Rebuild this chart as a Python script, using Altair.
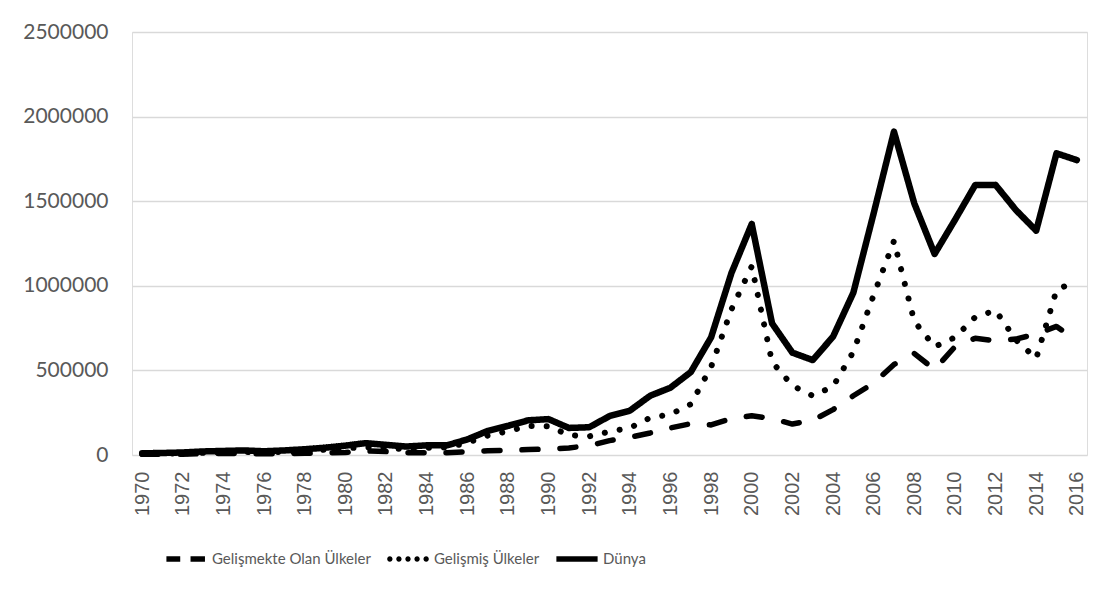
import altair as alt
import pandas as pd

years = list(range(1970, 2017))

dunya = [10000, 12000, 15000, 21000, 24000, 27000, 22000, 27000, 34000, 43000,
         55000, 70000, 60000, 50000, 57000, 57000, 92000, 142000, 172000, 205000,
         212000, 160000, 164000, 230000, 262000, 350000, 398000, 490000, 695000, 1075000,
         1365000, 778000, 605000, 561000, 699000, 959000, 1428000, 1911000, 1487000, 1188000,
         1389000, 1596000, 1596000, 1448000, 1326000, 1783000, 1743000]

gelismis = [6000, 8000, 10000, 13000, 15000, 18000, 15000, 19000, 24000, 31000,
            40000, 46000, 40000, 36000, 43000, 44000, 72000, 115000, 140000, 172000,
            170000, 118000, 110000, 138000, 160000, 220000, 240000, 300000, 520000, 860000,
            1115000, 550000, 410000, 350000, 405000, 610000, 945000, 1265000, 790000, 640000,
            695000, 815000, 855000, 680000, 570000, 975000, 1030000]

gelismekte = [4000, 4000, 5000, 8000, 9000, 9000, 7000, 8000, 10000, 12000,
              15000, 24000, 20000, 14000, 14000, 13000, 20000, 25000, 28000, 32000,
              35000, 42000, 55000, 85000, 105000, 130000, 160000, 185000, 178000, 215000,
              232000, 215000, 183000, 205000, 268000, 350000, 425000, 535000, 600000, 505000,
              640000, 690000, 675000, 685000, 715000, 760000, 675000]

series_names = ["Gelişmekte Olan Ülkeler", "Gelişmiş Ülkeler", "Dünya"]
y_ticks = [0, 500000, 1000000, 1500000, 2000000, 2500000]
x_label_years = [y for y in years if y % 2 == 0]

rows = []
for name, vals in zip(series_names, [gelismekte, gelismis, dunya]):
    for yr, v in zip(years, vals):
        rows.append({"Yıl": yr, "Değer": v, "Seri": name})
df = pd.DataFrame(rows)


def circle(cx, r):
    return f"M{cx - r},0a{r},{r} 0 1,0 {2 * r},0a{r},{r} 0 1,0 {-2 * r},0Z"


h = 0.135
dash_sym = (f"M-0.95,{-h}H-0.28V{h}H-0.95Z"
            f"M0.22,{-h}H0.92V{h}H0.22Z")
dot_sym = "".join(circle(cx, 0.13) for cx in [-0.88, -0.44, 0.0, 0.44, 0.88])
solid_sym = f"M-1,{-h}H1V{h}H-1Z"

x_enc = alt.X("Yıl:O", title=None,
              scale=alt.Scale(padding=0.5),
              axis=alt.Axis(values=x_label_years, labelAngle=-90, labelFont="Liberation Sans",
                            labelFontSize=20, labelColor="#595959", ticks=False, domain=False,
                            labelPadding=16, grid=False))
y_enc = alt.Y("Değer:Q", title=None,
              scale=alt.Scale(domain=[0, 2500000], nice=False),
              axis=alt.Axis(values=y_ticks, format="d", labelFont="Lato", labelFontSize=21,
                            labelColor="#595959", ticks=False, domain=False, labelPadding=24,
                            gridColor="#d9d9d9", gridWidth=1.3))

base = alt.Chart(df)

lines = base.mark_line(strokeCap="round", strokeJoin="round", color="black").encode(
    x=x_enc,
    y=y_enc,
    strokeDash=alt.StrokeDash("Seri:N",
        scale=alt.Scale(domain=series_names, range=[[16, 22], [0.1, 15], [1, 0]]),
        legend=None),
    strokeWidth=alt.StrokeWidth("Seri:N",
        scale=alt.Scale(domain=series_names, range=[5.5, 6.5, 6.5]), legend=None),
    order=alt.Order("Yıl:O"),
)

legend_layer = base.transform_filter("datum['Yıl'] == 1970").transform_calculate(
    Lejant="datum['Seri']"
).mark_point(
    filled=True, color="black", opacity=0, strokeWidth=0
).encode(
    x="Yıl:O",
    y="Değer:Q",
    shape=alt.Shape("Lejant:N",
        scale=alt.Scale(domain=series_names, range=[dash_sym, dot_sym, solid_sym]),
        legend=alt.Legend(title=None, orient="none", direction="horizontal",
                          legendX=33, legendY=506,
                          symbolSize=1700, symbolStrokeWidth=0, symbolFillColor="black",
                          symbolOpacity=1,
                          labelFont="Lato", labelFontSize=15, labelColor="#595959",
                          labelLimit=400, labelOffset=5, columnPadding=16, padding=0)),
)

chart = alt.layer(lines, legend_layer).resolve_legend(
    shape="independent", strokeDash="independent", strokeWidth="independent"
).properties(
    width=955, height=423,
    autosize=alt.AutoSizeParams(type="none"),
    padding={"left": 124, "top": 24, "right": 15, "bottom": 130},
).configure_view(stroke=None).configure(background="white")

chart.save("out.html", embed_options={"renderer": "svg", "actions": False})
